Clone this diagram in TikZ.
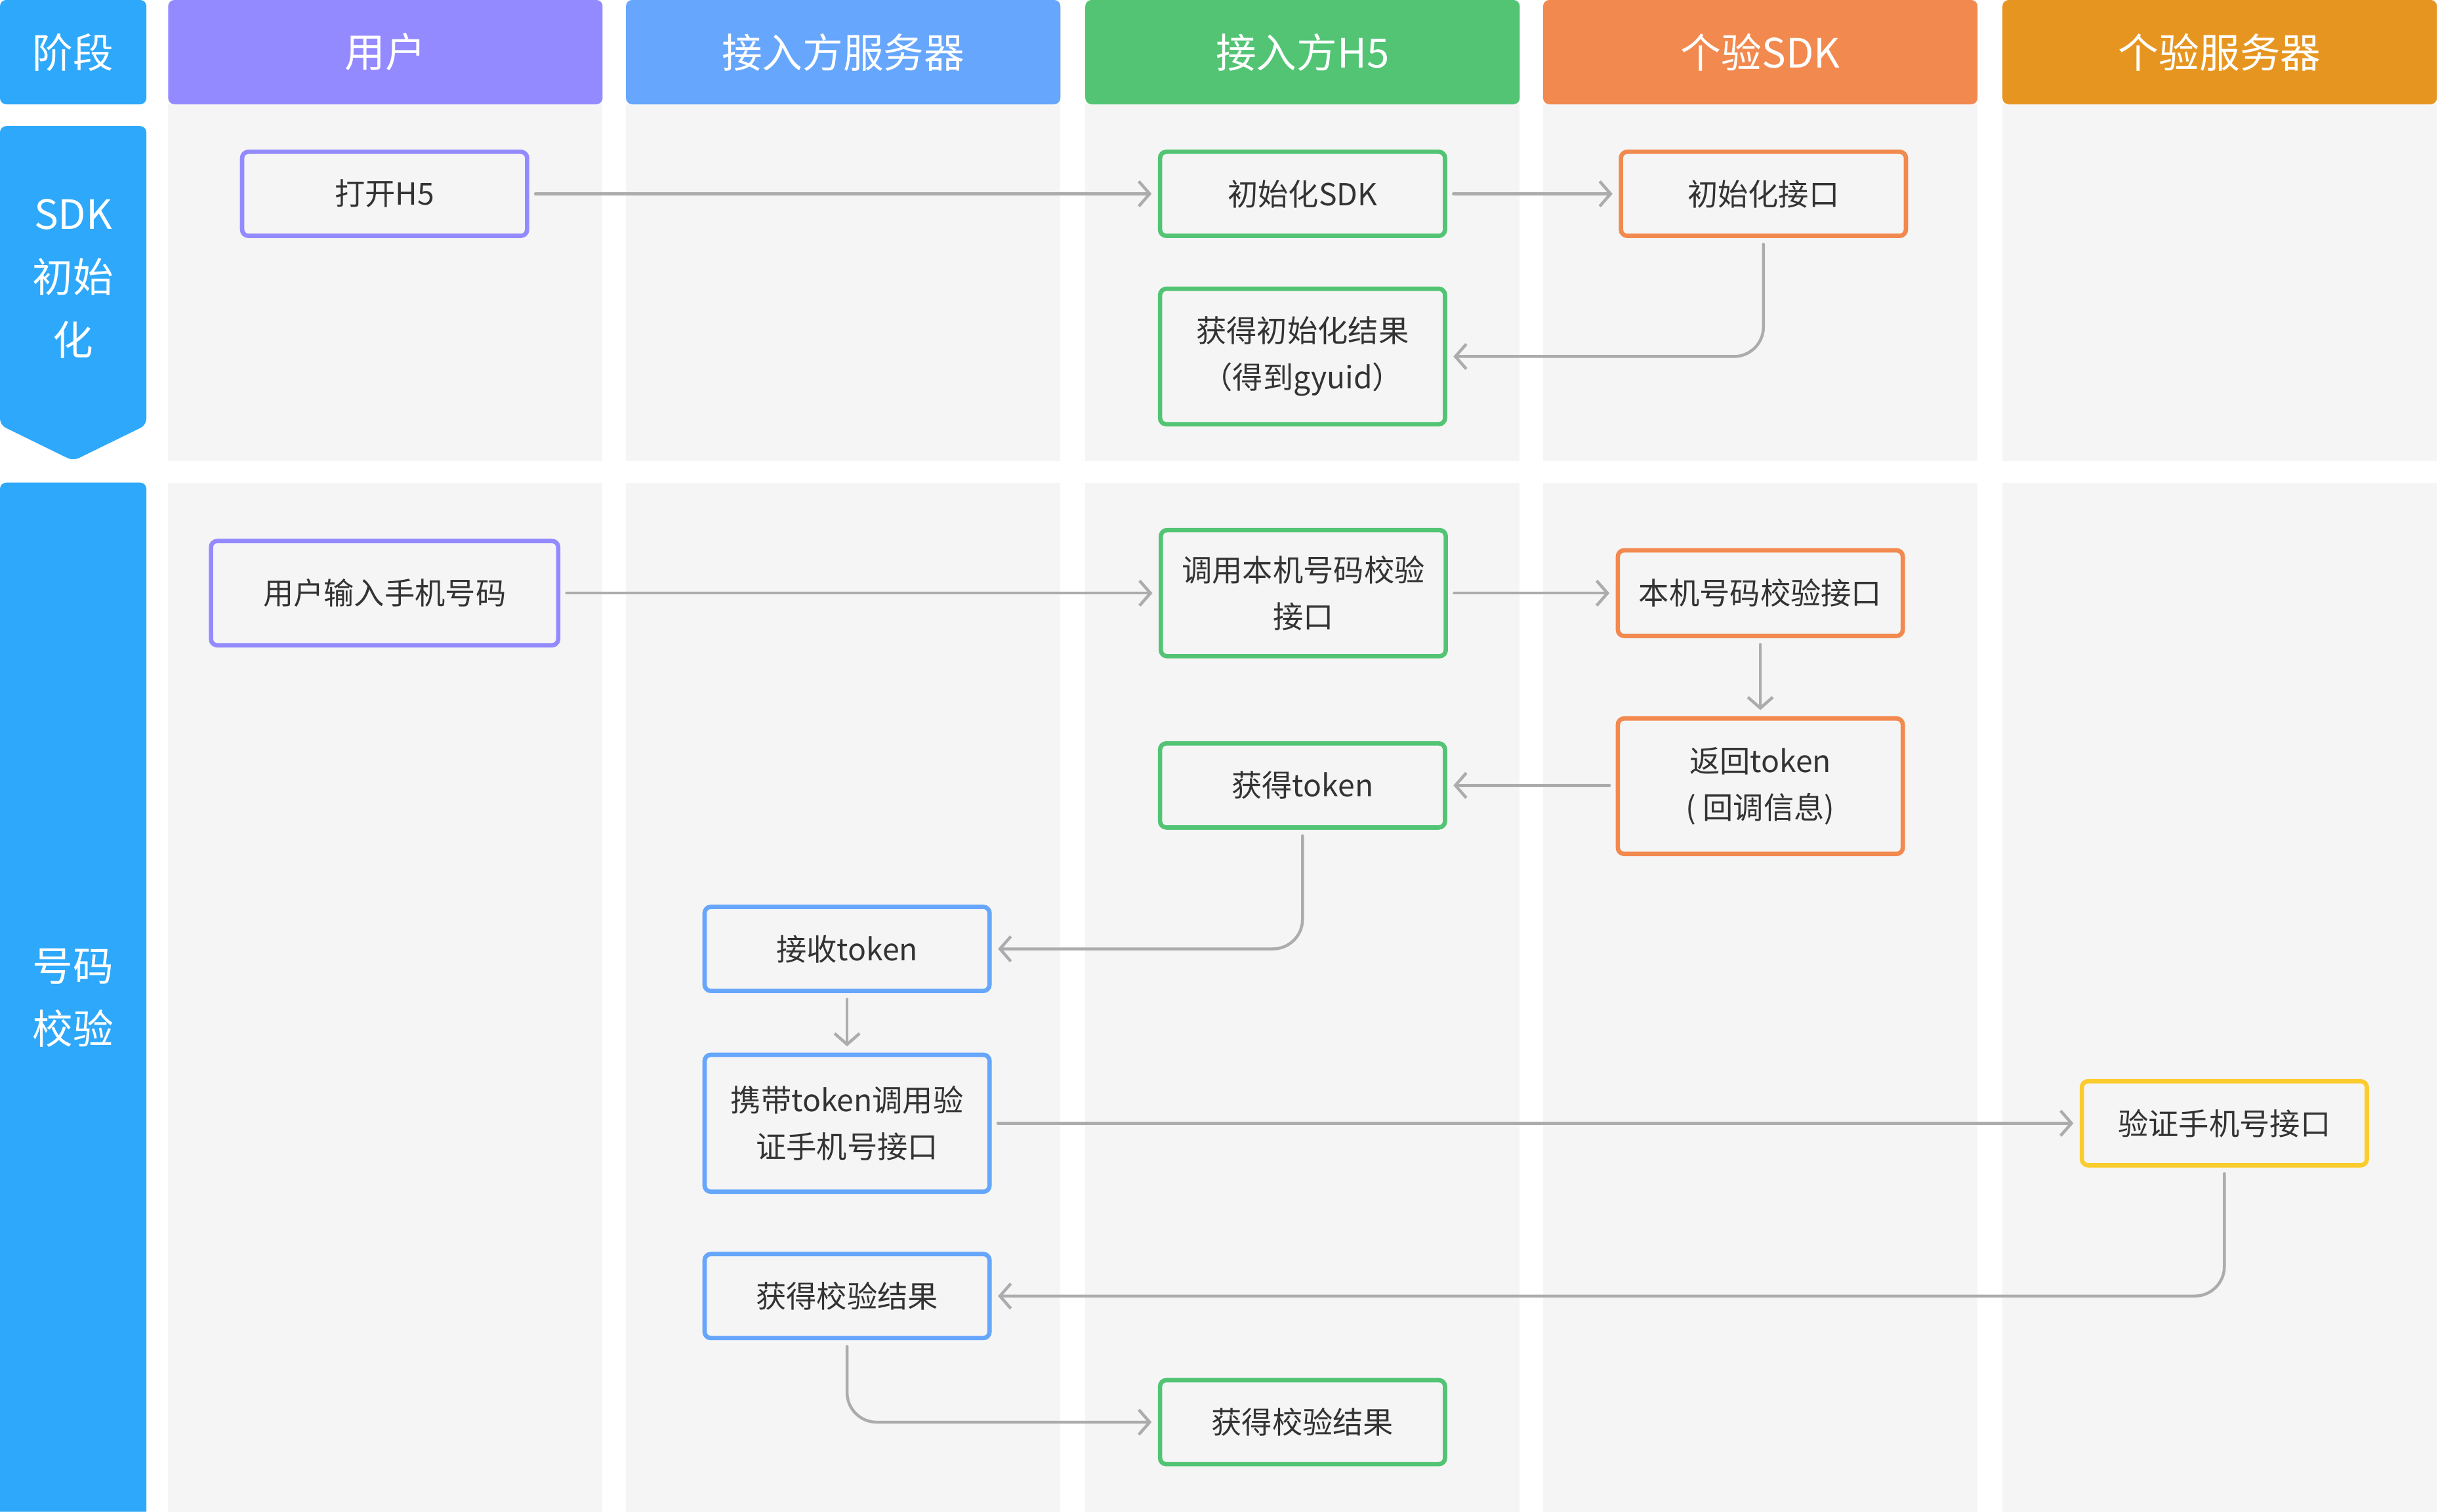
\documentclass[tikz,border=0pt]{standalone}
\usepackage{fontspec}
\setmainfont{Noto Sans CJK SC}
\usepackage{xcolor}
\usetikzlibrary{arrows.meta}
\definecolor{phaseColor}{RGB}{46, 168, 250}
\definecolor{userColor}{RGB}{148, 138, 255}
\definecolor{serverColor}{RGB}{102, 166, 252}
\definecolor{hfiveColor}{RGB}{82, 196, 116}
\definecolor{sdkColor}{RGB}{242, 137, 78}
\definecolor{gyColor}{RGB}{230, 150, 32}
\definecolor{verifyColor}{RGB}{251, 204, 46}
\definecolor{laneColor}{RGB}{245, 245, 245}
\definecolor{textColor}{RGB}{51, 51, 51}
\definecolor{flowColor}{RGB}{172, 172, 172}

\begin{document}
\begin{tikzpicture}[x=1pt, y=-1pt,
    lanehead/.style={rounded corners=4pt, minimum width=279, minimum height=67, inner sep=0pt, text=white, font=\fontsize{26}{30}\selectfont},
    phaselabel/.style={text=white, align=center, font=\fontsize{26}{40.5}\selectfont},
    box/.style={draw, line width=2.8pt, rounded corners=4pt, fill=laneColor, text=textColor, align=center, minimum width=183, minimum height=54, inner sep=0pt, font=\fontsize{19.5}{30}\selectfont},
    flow/.style={-{Straight Barb[length=7pt, width=16pt]}, line width=1.9pt, flowColor, line cap=round, shorten <=4pt, shorten >=4pt}]
    \useasboundingbox (0,0) rectangle (1567,971);
    \fill[white] (0,0) rectangle (1567,971);

    % lanes
    \foreach \x in {108,402,697,991,1286} {
        \fill[laneColor] (\x,67) rectangle ++(279,229);
        \fill[laneColor] (\x,310) rectangle ++(279,661);
    }
    \node[lanehead, fill=phaseColor, minimum width=94] (headPhase) at (47,33.5) {阶段};
    \node[lanehead, fill=userColor] (headUser) at (247.5,33.5) {用户};
    \node[lanehead, fill=serverColor] (headServer) at (541.5,33.5) {接入方服务器};
    \node[lanehead, fill=hfiveColor] (headHfive) at (836.5,33.5) {接入方H5};
    \node[lanehead, fill=sdkColor] (headSdk) at (1130.5,33.5) {个验SDK};
    \node[lanehead, fill=gyColor] (headGy) at (1425.5,33.5) {个验服务器};

    % phases
    \fill[phaseColor, rounded corners=4pt] (0,273) -- (0,81) -- (94,81) -- (94,273) -- (47,296) -- cycle;
    \node[phaselabel] (phaseInit) at (47,179) {SDK\\初始\\化};
    \fill[phaseColor] (0,971) [rounded corners=4pt] -- (0,310) -- (94,310) [sharp corners] -- (94,971) -- cycle;
    \node[phaselabel] (phaseCheck) at (47,641) {号码\\校验};

    % SDK init
    \node[box, draw=userColor] (openHfive) at (247,124.5) {打开H5};
    \node[box, draw=hfiveColor] (initSdk) at (836.5,124.5) {初始化SDK};
    \node[box, draw=sdkColor] (initApi) at (1132.5,124.5) {初始化接口};
    \node[box, draw=hfiveColor, minimum height=87] (initResult) at (836.5,229) {获得初始化结果\\（得到gyuid）};

    % number check
    \node[box, draw=userColor, minimum width=223, minimum height=67] (inputPhone) at (247,381) {用户输入手机号码};
    \node[box, draw=hfiveColor, minimum height=81] (callLocal) at (837,381) {调用本机号码校验\\接口};
    \node[box, draw=sdkColor, minimum height=55] (localApi) at (1130.5,381) {本机号码校验接口};
    \node[box, draw=sdkColor, minimum height=87] (returnToken) at (1130.5,505) {返回token\\( 回调信息)};
    \node[box, draw=hfiveColor] (getToken) at (836.5,504.5) {获得token};
    \node[box, draw=serverColor] (recvToken) at (544,609.5) {接收token};
    \node[box, draw=serverColor, minimum height=88] (carryToken) at (544,721.5) {携带token调用验\\证手机号接口};
    \node[box, draw=verifyColor] (verifyApi) at (1428.5,721.5) {验证手机号接口};
    \node[box, draw=serverColor] (serverResult) at (544,832.5) {获得校验结果};
    \node[box, draw=hfiveColor] (hfiveResult) at (836.5,913.5) {获得校验结果};

    % connectors
    \draw[flow] (openHfive) -- (initSdk);
    \draw[flow] (initSdk) -- (initApi);
    \draw[flow, rounded corners=19pt] (initApi.south) |- (initResult.east);
    \draw[flow] (inputPhone) -- (callLocal);
    \draw[flow] (callLocal) -- (localApi);
    \draw[flow] (localApi) -- (returnToken);
    \draw[flow] (returnToken.west |- getToken) -- (getToken);
    \draw[flow, rounded corners=19pt] (getToken.south) |- (recvToken.east);
    \draw[flow] (recvToken) -- (carryToken);
    \draw[flow] (carryToken) -- (verifyApi);
    \draw[flow, rounded corners=19pt] (verifyApi.south) |- (serverResult.east);
    \draw[flow, rounded corners=19pt] (serverResult.south) |- (hfiveResult.west);
\end{tikzpicture}
\end{document}
